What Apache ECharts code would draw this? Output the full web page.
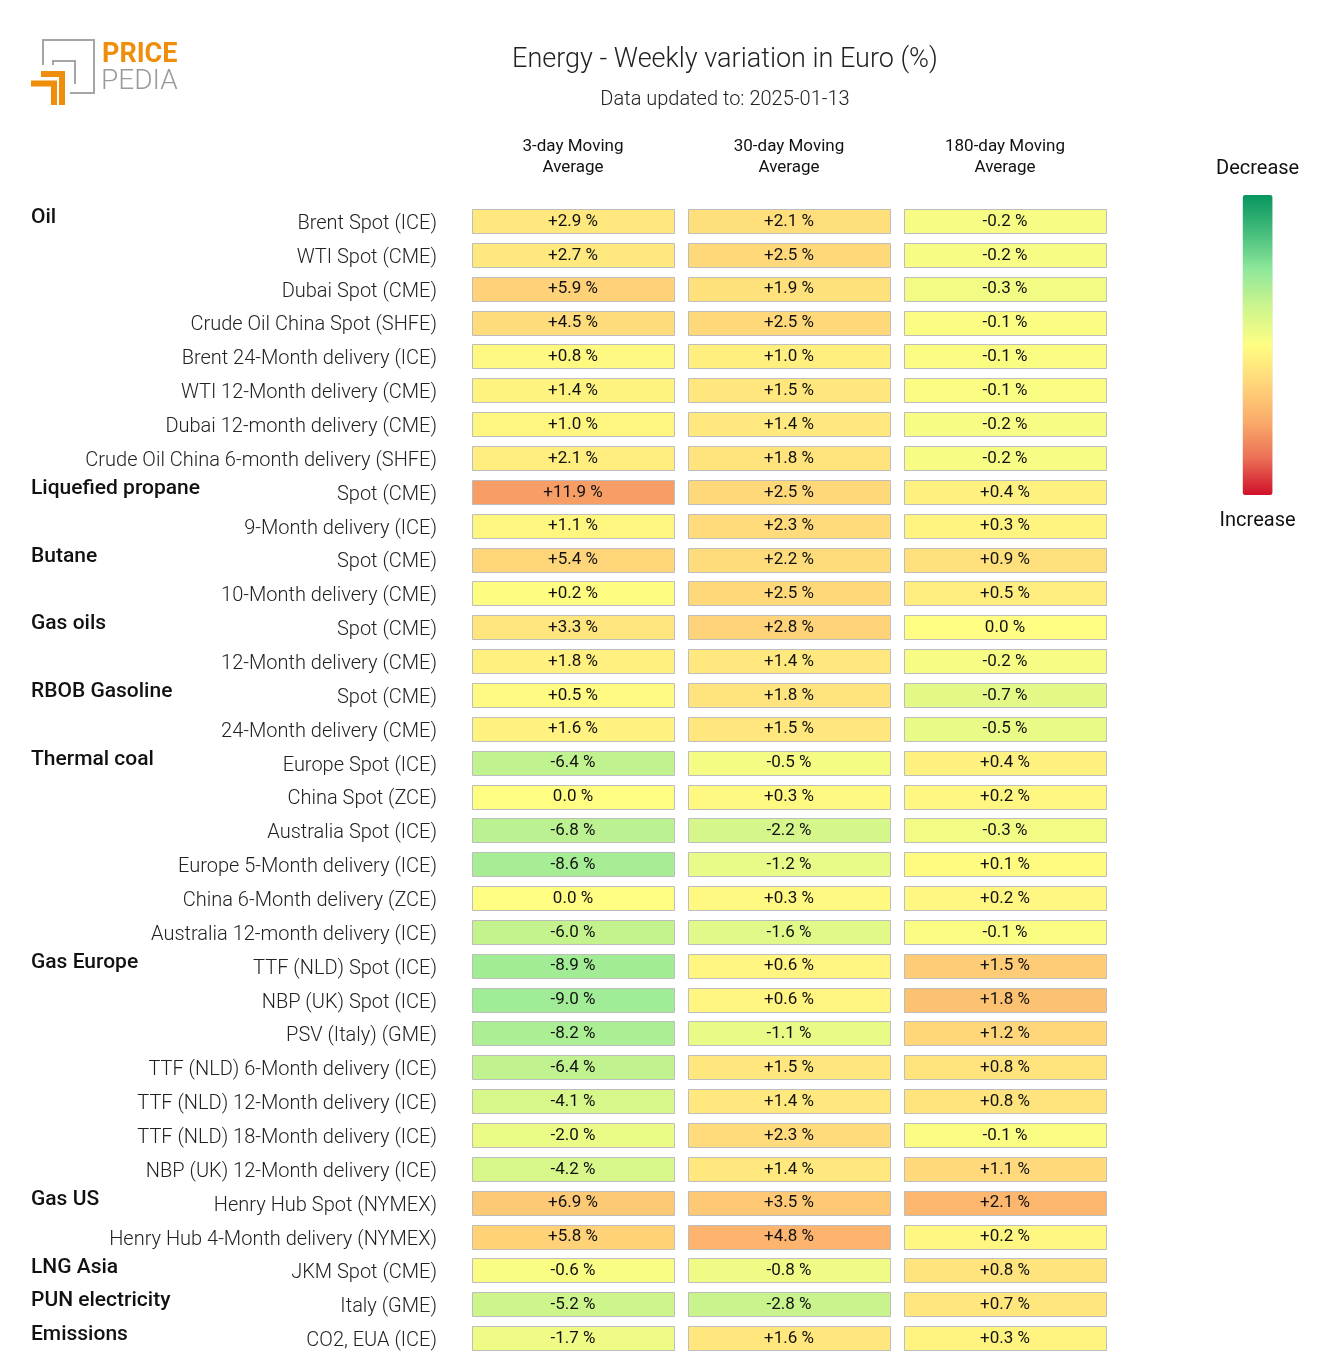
<!DOCTYPE html>
<html>
<head>
<meta charset="utf-8">
<script src="https://cdn.jsdelivr.net/npm/echarts@6/dist/echarts.min.js"></script>
<style>
html,body{margin:0;padding:0;background:#fff;}
#chart{width:1320px;height:1357px;}
</style>
</head>
<body>
<div id="chart"></div>
<script>
// ---------- DATA ----------
const columns = ['3-day Moving\nAverage', '30-day Moving\nAverage', '180-day Moving\nAverage'];
const groupNames = ['Oil', 'Liquefied propane', 'Butane', 'Gas oils', 'RBOB Gasoline', 'Thermal coal', 'Gas Europe', 'Gas US', 'LNG Asia', 'PUN electricity', 'Emissions'];
const groupSizes = [8, 2, 2, 2, 2, 6, 7, 2, 1, 1, 1];
const items = [
  'Brent Spot (ICE)', 'WTI Spot (CME)', 'Dubai Spot (CME)', 'Crude Oil China Spot (SHFE)',
  'Brent 24-Month delivery (ICE)', 'WTI 12-Month delivery (CME)', 'Dubai 12-month delivery (CME)',
  'Crude Oil China 6-month delivery (SHFE)',
  'Spot (CME)', '9-Month delivery (ICE)',
  'Spot (CME)', '10-Month delivery (CME)',
  'Spot (CME)', '12-Month delivery (CME)',
  'Spot (CME)', '24-Month delivery (CME)',
  'Europe Spot (ICE)', 'China Spot (ZCE)', 'Australia Spot (ICE)', 'Europe 5-Month delivery (ICE)',
  'China 6-Month delivery (ZCE)', 'Australia 12-month delivery (ICE)',
  'TTF (NLD) Spot (ICE)', 'NBP (UK) Spot (ICE)', 'PSV (Italy) (GME)', 'TTF (NLD) 6-Month delivery (ICE)',
  'TTF (NLD) 12-Month delivery (ICE)', 'TTF (NLD) 18-Month delivery (ICE)', 'NBP (UK) 12-Month delivery (ICE)',
  'Henry Hub Spot (NYMEX)', 'Henry Hub 4-Month delivery (NYMEX)',
  'JKM Spot (CME)', 'Italy (GME)', 'CO2, EUA (ICE)'
];
const ma3 = [2.9, 2.7, 5.9, 4.5, 0.8, 1.4, 1.0, 2.1, 11.9, 1.1, 5.4, 0.2, 3.3, 1.8, 0.5, 1.6,
  -6.4, 0.0, -6.8, -8.6, 0.0, -6.0, -8.9, -9.0, -8.2, -6.4, -4.1, -2.0, -4.2, 6.9, 5.8, -0.6, -5.2, -1.7];
const ma30 = [2.1, 2.5, 1.9, 2.5, 1.0, 1.5, 1.4, 1.8, 2.5, 2.3, 2.2, 2.5, 2.8, 1.4, 1.8, 1.5,
  -0.5, 0.3, -2.2, -1.2, 0.3, -1.6, 0.6, 0.6, -1.1, 1.5, 1.4, 2.3, 1.4, 3.5, 4.8, -0.8, -2.8, 1.6];
const ma180 = [-0.2, -0.2, -0.3, -0.1, -0.1, -0.1, -0.2, -0.2, 0.4, 0.3, 0.9, 0.5, 0.0, -0.2, -0.7, -0.5,
  0.4, 0.2, -0.3, 0.1, 0.2, -0.1, 1.5, 1.8, 1.2, 0.8, 0.8, -0.1, 1.1, 2.1, 0.2, 0.8, 0.7, 0.3];
const colorScaleLimits = [21, 10.5, 4.75]; // symmetric colour range per column
const legendText = ['Decrease', 'Increase'];

// ---------- BUILD ----------
const rowGroup = [];
groupNames.forEach((g, gi) => { for (let k = 0; k < groupSizes[gi]; k++) rowGroup.push(k === 0 ? g : ''); });

const palette = ['#07955f', '#45bd7c', '#90e89a', '#cdf58c', '#fffe82', '#ffd67a', '#fbad6b', '#ec7157', '#d0102a'];
const colData = [ma3, ma30, ma180];

function fmt(v) {
  if (v === 0) return '0.0 %';
  return (v > 0 ? '+' : '-') + Math.abs(v).toFixed(1) + ' %';
}

const FONT = 'Roboto, "Noto Sans", sans-serif';

function renderCell(params, api) {
  const x = api.value(0), y = api.value(1), v = api.value(2);
  const p = api.coord([x, y]);
  const s = api.size([1, 1]);
  const w = s[0] - 14, h = s[1] - 10;
  return {
    type: 'group',
    children: [
      { type: 'rect', shape: { x: Math.round(p[0] - w / 2) + 0.5, y: Math.round(p[1] - h / 2) + 0.5, width: Math.round(w), height: Math.round(h) },
        style: { fill: api.visual('color'), stroke: '#bdbdbd', lineWidth: 1 } },
      { type: 'text', style: { text: fmt(v), x: p[0], y: p[1] + 0.5, align: 'center', verticalAlign: 'middle',
        fill: '#111', font: '400 17px ' + FONT } }
    ]
  };
}

const series = colData.map((arr, ci) => ({
  type: 'custom',
  name: columns[ci],
  renderItem: renderCell,
  encode: { x: 0, y: 1 },
  data: arr.map((v, ri) => [ci, ri, v]),
  silent: true
}));
series.push({ type: 'custom', renderItem: () => null, data: [] });

const visualMaps = colData.map((arr, ci) => ({
  type: 'continuous', show: false, seriesIndex: ci, dimension: 2,
  min: -colorScaleLimits[ci], max: colorScaleLimits[ci],
  inRange: { color: palette }
}));
visualMaps.push({
  type: 'continuous', show: true, seriesIndex: 3, min: 0, max: 1,
  calculable: false, orient: 'vertical',
  left: 1201, top: 144, itemWidth: 30, itemHeight: 300,
  text: legendText, textGap: 16,
  textStyle: { fontSize: 20, color: '#111', fontFamily: FONT },
  inRange: { color: palette.slice().reverse() }
});

const option = {
  backgroundColor: '#fff',
  animation: false,
  title: [
    { text: 'Energy - Weekly variation in Euro (%)', left: 720, top: 42, textAlign: 'center',
      textStyle: { fontSize: 27, fontWeight: 300, color: '#222', fontFamily: FONT } },
    { text: 'Data updated to: 2025-01-13', left: 720, top: 85, textAlign: 'center',
      textStyle: { fontSize: 20, fontWeight: 300, color: '#222', fontFamily: FONT } }
  ],
  grid: { left: 465, top: 204, width: 648, height: 1151, containLabel: false },
  xAxis: {
    type: 'category', position: 'top', data: columns,
    axisLine: { show: false }, axisTick: { show: false }, splitLine: { show: false },
    axisLabel: { fontSize: 17, lineHeight: 21, color: '#111', fontFamily: FONT, margin: 26, interval: 0 }
  },
  yAxis: [
    {
      type: 'category', inverse: true, data: items,
      axisLine: { show: false }, axisTick: { show: false }, splitLine: { show: false },
      axisLabel: { interval: 0, margin: 28, fontSize: 20, fontWeight: 300, color: '#222', fontFamily: FONT,
        formatter: (val, idx) => '{a|' + items[idx] + '}',
        rich: { a: { fontSize: 20, fontWeight: 300, color: '#222', fontFamily: FONT, padding: [6, 0, 0, 0] } } }
    },
    {
      type: 'category', inverse: true, position: 'left', data: rowGroup,
      axisLine: { show: false }, axisTick: { show: false }, splitLine: { show: false },
      axisLabel: { interval: 0, margin: 434, align: 'left', fontSize: 21, fontWeight: 500, color: '#111', fontFamily: FONT,
        formatter: (val, idx) => rowGroup[idx] ? '{g|' + rowGroup[idx] + '}' : '',
        rich: { g: { fontSize: 21, fontWeight: 500, color: '#111', fontFamily: FONT, padding: [0, 0, 6, 0] } } }
    }
  ],
  visualMap: visualMaps,
  series: series,
  graphic: [
    { type: 'polyline', shape: { points: [[43, 65], [43, 40], [94, 40], [94, 93], [70, 93]] }, style: { stroke: '#a5a5a5', lineWidth: 2, fill: null } },
    { type: 'polyline', shape: { points: [[53, 65], [53, 61], [75, 61], [75, 84]] }, style: { stroke: '#a5a5a5', lineWidth: 2, fill: null } },
    { type: 'polyline', shape: { points: [[41, 74], [62, 74], [62, 105]] }, style: { stroke: '#ef8e0b', lineWidth: 6, fill: null, lineJoin: 'miter' } },
    { type: 'polyline', shape: { points: [[31, 83.5], [54, 83.5], [54, 105]] }, style: { stroke: '#ef8e0b', lineWidth: 6, fill: null, lineJoin: 'miter' } },
    { type: 'text', left: 102, top: 42, style: { text: 'PRICE', font: '700 27px ' + FONT, fill: '#ef8e0b' } },
    { type: 'text', left: 101, top: 68, style: { text: 'PEDIA', font: '300 28px ' + FONT, fill: '#9a9a9a' } }
  ]
};

const chart = echarts.init(document.getElementById('chart'), null, { renderer: 'canvas' });
chart.setOption(option);
</script>
</body>
</html>
